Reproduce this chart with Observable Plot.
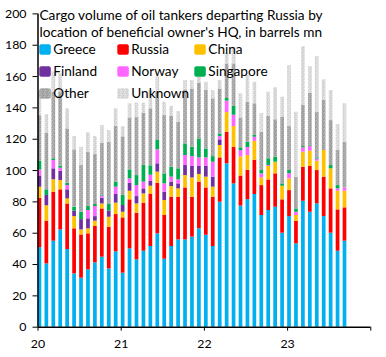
<!DOCTYPE html>
<html><head><meta charset="utf-8">
<script src="https://cdn.jsdelivr.net/npm/d3@7"></script>
<script src="https://cdn.jsdelivr.net/npm/@observablehq/plot@0.6"></script>
<style>
body{margin:0;background:#fff;}
#wrap{width:386px;height:357px;overflow:hidden;}
</style></head>
<body><div id="wrap"></div>
<script>
const months = ["2020-01","2020-02","2020-03","2020-04","2020-05","2020-06","2020-07","2020-08","2020-09","2020-10","2020-11","2020-12",
"2021-01","2021-02","2021-03","2021-04","2021-05","2021-06","2021-07","2021-08","2021-09","2021-10","2021-11","2021-12",
"2022-01","2022-02","2022-03","2022-04","2022-05","2022-06","2022-07","2022-08","2022-09","2022-10","2022-11","2022-12",
"2023-01","2023-02","2023-03","2023-04","2023-05","2023-06","2023-07","2023-08","2023-09"];
const yearLabels = ["20","21","22","23",""];
const yTicks = [0,20,40,60,80,100,120,140,160,180,200];
const seriesNames = ["Greece","Russia","China","Finland","Norway","Singapore","Other","Unknown"];
const greece = [50.7,40.4,54.9,62.1,49.6,34.0,31.3,36.6,41.1,44.7,37.2,48.1,34.5,50.0,43.0,48.5,51.5,59.6,43.4,51.5,55.7,55.7,57.5,62.8,58.7,51.5,79.8,104.3,91.5,77.3,81.4,84.7,71.3,74.5,76.6,60.0,70.6,53.2,80.4,73.4,78.7,70.6,60.0,48.5,54.9];
const russia = [31.6,27.3,31.3,25.6,29.1,28.8,27.6,23.0,23.2,30.8,26.6,23.8,35.3,31.3,29.8,30.7,33.5,32.3,27.9,31.5,27.3,33.2,25.5,29.8,30.2,31.5,28.3,20.2,23.2,19.2,18.8,21.9,19.1,19.5,21.3,21.3,16.6,14.5,21.7,29.2,21.3,25.2,28.3,26.4,21.3];
const china = [7.1,9.8,7.9,5.9,3.2,7.8,3.2,3.2,3.4,3.2,6.4,7.3,3.6,5.5,5.9,5.9,5.0,7.1,9.6,6.8,5.3,7.9,12.3,4.9,6.9,6.4,7.9,12.5,13.4,12.2,9.4,12.0,4.9,8.6,7.4,8.7,7.5,3.6,9.6,9.8,6.0,17.0,12.8,11.9,10.6];
const finland = [6.8,6.6,7.0,6.0,5.8,3.4,6.6,6.4,2.9,3.6,3.8,5.5,4.3,5.1,4.7,3.2,3.0,5.3,5.3,2.8,3.2,6.4,7.3,5.1,6.8,6.4,3.6,0,0,0,0,0,0,0,0,0,0,0,0,0,0,0,0,0,0];
const norway = [4.2,0,5.3,1.9,2.7,0,0,5.3,6.4,1.1,0,4.7,0,2.8,7.0,4.3,4.0,8.9,5.3,3.2,2.6,6.4,6.3,5.5,5.5,9.5,2.1,7.3,7.2,4.1,5.1,2.7,2.6,0.6,0,0,3.3,2.1,2.8,2.9,1.3,0,0,1.5,2.1];
const singapore = [5.4,3.6,1.1,1.3,1.5,2.6,4.7,2.5,1.3,0.5,4.3,3.2,6.4,5.7,6.4,10.6,6.0,6.0,6.4,6.3,7.0,7.4,6.0,12.1,5.7,3.6,1.7,1.7,5.7,1.7,3.4,1.1,2.1,4.3,3.2,1.5,2.0,2.1,0.8,0.5,0.8,0,2.1,2.1,0];
const other = [29.2,36,42.5,47,34.7,36.6,29.8,34.7,31.9,33.6,39.8,35.5,37.4,33.2,37.0,33.4,36.4,30.8,37.2,32.5,29.8,34.5,37.2,35.6,37.3,36.9,28.7,22,27.1,19.1,25.4,20.2,24.5,27.0,23.9,42.6,28.1,20.3,26.2,33.6,29.1,31.9,28.7,22.4,29.2];
const unknown = [15,12,13,12,12.8,8.5,11.7,12.4,11.5,11.2,7.5,11.3,6.6,9.0,9.3,6.4,11.7,10,8.5,6.4,6.7,6.0,5.4,3.8,5.3,5.3,5.4,6.7,10.6,15.4,17.2,13.8,11.9,15.5,20.4,12.7,38.9,41.4,37.5,17.0,35.6,13.2,19.2,16.6,24.5];
const titleLines = ["Cargo volume of oil tankers departing Russia by","location of beneficial owner's HQ, in barrels mn"];

const seriesValues = [greece,russia,china,finland,norway,singapore,other,unknown];
const colors = ["#00b0f0","#ff0000","#ffc000","#7030a0","#ff66ff","#00b050","url(#patOther)","url(#patUnknown)"];

const rows = [];
months.forEach((m, i) => {
  seriesNames.forEach((s, j) => rows.push({month: m, i, series: s, value: seriesValues[j][i]}));
});

const FONT = "Lato, 'Open Sans', sans-serif";
const chart = Plot.plot({
  width: 386, height: 357,
  marginLeft: 37.5, marginRight: 15.7, marginTop: 13.4, marginBottom: 30.3,
  style: {fontFamily: FONT, fontSize: "13px", color: "#000", background: "white"},
  x: {type: "linear", domain: [0, 48], ticks: [0, 12, 24, 36, 48], tickFormat: d => yearLabels[d / 12], tickSize: 4, tickPadding: 8, label: null},
  y: {domain: [0, 200], ticks: yTicks, tickSize: 5, tickPadding: 6.5, label: null},
  color: {domain: seriesNames, range: colors},
  marks: [
    Plot.rectY(rows, {x1: d => d.i + 0.01, x2: d => d.i + 0.545, y: "value", fill: "series", order: seriesNames}),
    Plot.ruleX([0], {stroke: "#000", strokeWidth: 1.5}),
    Plot.ruleY([0], {stroke: "#000", strokeWidth: 1.5})
  ]
});
document.getElementById("wrap").appendChild(chart);

const svg = d3.select(chart);
const defs = svg.insert("defs", ":first-child");
function pattern(id, base, dots) {
  const p = defs.append("pattern").attr("id", id).attr("width", 4).attr("height", 4).attr("patternUnits", "userSpaceOnUse");
  p.append("rect").attr("width", 4).attr("height", 4).attr("fill", base);
  dots.forEach(([x, y, c]) => p.append("rect").attr("x", x).attr("y", y).attr("width", 1).attr("height", 1).attr("fill", c));
}
pattern("patOther", "#a6a6a6", [[0,0,"#b9b9b9"],[2,1,"#959595"],[1,2,"#bdbdbd"],[3,3,"#979797"]]);
pattern("patUnknown", "#d9d9d9", [[0,0,"#e9e9e9"],[2,1,"#cacaca"],[1,2,"#ededed"],[3,3,"#cccccc"]]);

function fitSize(sel, target) {
  const w = sel.node().getComputedTextLength();
  return w > 0 ? 15 * target / w : 13;
}

// tick labels
const tickTexts = svg.selectAll("g[aria-label='x-axis'] text, g[aria-label='y-axis'] text, g[aria-label='x-axis tick label'] text, g[aria-label='y-axis tick label'] text");
tickTexts.style("font-size", "15px");
let t200 = null;
tickTexts.each(function() { if (this.textContent === "200") t200 = this; });
const tickSize = t200 ? 15 * 21.5 / t200.getComputedTextLength() : 13;
tickTexts.style("font-size", tickSize + "px");

// title
const t = svg.append("g").attr("font-family", FONT).attr("font-size", 15).attr("fill", "#000").attr("text-anchor", "start");
const tl = titleLines.map((line, k) => t.append("text").attr("x", 39.5).attr("y", 19.5 + k * 17.8).attr("text-anchor", "start").text(line));
const titleSize = fitSize(tl[0], 283.5);
t.attr("font-size", titleSize);

// legend
const legCols = [39.3, 117.3, 194.3];
const legRows = [44.3, 66.2, 88.3];
const lg = svg.append("g").attr("font-family", FONT).attr("font-size", 15).attr("fill", "#000").attr("text-anchor", "start");
const legTexts = [];
seriesNames.forEach((s, j) => {
  const cx = legCols[j % 3], ry = legRows[Math.floor(j / 3)];
  lg.append("rect").attr("x", cx).attr("y", ry).attr("width", 11.5).attr("height", 10.5).attr("rx", 2).attr("fill", colors[j]);
  legTexts.push(lg.append("text").attr("x", cx + 14).attr("y", ry + 9.6).attr("text-anchor", "start").text(s));
});
lg.attr("font-size", fitSize(legTexts[5], 59.4));
</script>
</body></html>
